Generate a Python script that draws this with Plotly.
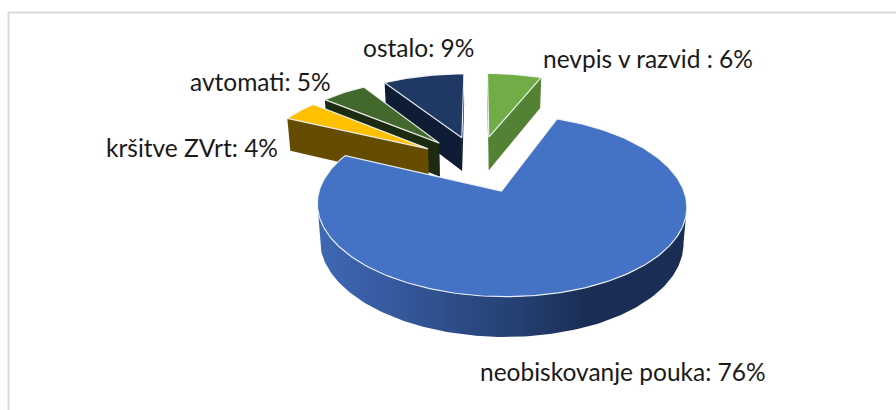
import math
import plotly.graph_objects as go

# data, clockwise from 12 o'clock
categories = ["nevpis v razvid ", "neobiskovanje pouka", "kršitve ZVrt", "avtomati", "ostalo"]
values = [6, 76, 4, 5, 9]
top_colors = ["#70AD47", "#4472C4", "#FFC000", "#43682B", "#203864"]
wall_colors = ["#548235", "#2F5597", "#654C00", "#1B2A10", "#0F1C36"]
label_xy = [(648, 58), (623, 371), (192, 147), (260, 81), (418, 47)]
draw_order = [0, 4, 3, 2, 1]

# projection of the 3D pie
CX, CY, A, B, K = 478, 163.5, 173.5, 80.5, 0.15
EXPLODE, DEPTH, CONVERGE = 0.35, 34.5, 0.984
FONT = "Lato"
FONT_SIZE = 24.5


def proj(px, py):
    s = 1 / (1 + K * py)
    return CX + A * px * s, CY - B * py * s, s


def lower(p):
    return CX + (p[0] - CX) * CONVERGE, p[1] + DEPTH * p[2] ** 0.7


def slice_outline(start, frac):
    mid = start + frac / 2
    ox = EXPLODE * math.sin(2 * math.pi * mid)
    oy = EXPLODE * math.cos(2 * math.pi * mid)
    apex = proj(ox, oy)
    n = max(8, int(frac * 360))
    arc = []
    for i in range(n + 1):
        t = 2 * math.pi * (start + frac * i / n)
        arc.append(proj(ox + math.sin(t), oy + math.cos(t)))
    return apex, arc


def front_runs(points):
    runs, cur = [], []
    for p, q in zip(points[:-1], points[1:]):
        if q[0] - p[0] < 0:
            if not cur:
                cur = [p]
            cur.append(q)
        elif cur:
            runs.append(cur)
            cur = []
    if cur:
        runs.append(cur)
    return runs


fig = go.Figure()
total = sum(values)
starts = [sum(values[:i]) / total for i in range(len(values))]

for idx in draw_order:
    frac = values[idx] / total
    apex, arc = slice_outline(starts[idx], frac)
    outline = [apex] + arc + [apex]
    for run in front_runs(outline):
        bottom = [lower(p) for p in reversed(run)]
        xs = [p[0] for p in run] + [p[0] for p in bottom]
        ys = [p[1] for p in run] + [p[1] for p in bottom]
        kw = dict(fillcolor=wall_colors[idx])
        if values[idx] == max(values):
            kw = dict(fillgradient=dict(
                type="horizontal",
                colorscale=[[0, "#3E69B4"], [0.2, "#36599F"], [0.55, "#243F70"],
                            [0.72, "#1A2E55"], [1, "#1A2E55"]]))
        fig.add_trace(go.Scatter(x=xs, y=ys, mode="lines", fill="toself",
                                 line=dict(width=0), hoverinfo="skip", **kw))
    fig.add_trace(go.Scatter(x=[p[0] for p in outline], y=[p[1] for p in outline],
                             mode="lines", fill="toself", fillcolor=top_colors[idx],
                             line=dict(color="rgba(245,247,250,0.9)", width=1.2),
                             name=categories[idx], hoverinfo="name"))

annotations = [
    dict(x=x, y=y, text=f"{c}: {v}%", showarrow=False, xanchor="center", yanchor="middle",
         font=dict(family=FONT, size=FONT_SIZE, color="#1a1a1a"))
    for c, v, (x, y) in zip(categories, values, label_xy)
]

shapes = [
    dict(type="line", x0=8.5, x1=8.5, y0=12.5, y1=410, line=dict(color="#D9D9D9", width=2)),
    dict(type="line", x0=8.5, x1=896, y0=12.5, y1=12.5, line=dict(color="#D9D9D9", width=2)),
]

fig.update_layout(
    width=896, height=410, margin=dict(l=0, r=0, t=0, b=0),
    paper_bgcolor="white", plot_bgcolor="white", showlegend=False,
    xaxis=dict(range=[0, 896], visible=False, fixedrange=True),
    yaxis=dict(range=[410, 0], visible=False, fixedrange=True),
    annotations=annotations, shapes=shapes,
)
fig.write_html("out.html", config={"displayModeBar": False},
               post_script="document.body.style.margin='0';document.body.style.overflow='hidden';")
